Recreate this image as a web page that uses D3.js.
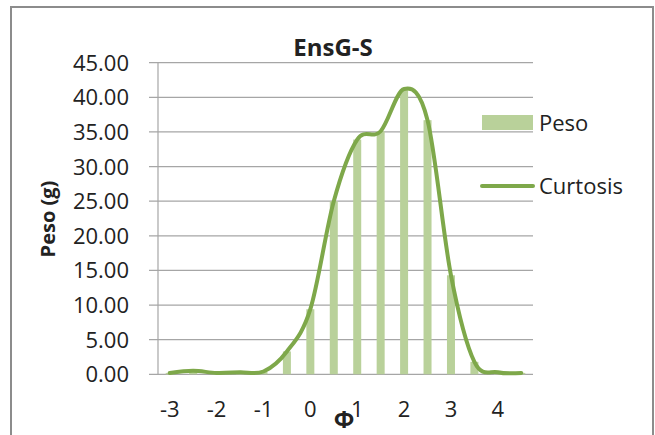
<!DOCTYPE html>
<html>
<head>
<meta charset="utf-8">
<script src="https://cdn.jsdelivr.net/npm/d3@7"></script>
<style>
  html, body { margin: 0; padding: 0; background: #fff; }
  svg { display: block; }
  text { font-family: "Open Sans", sans-serif; fill: #222; }
</style>
</head>
<body>
<svg id="chart" width="655" height="435"></svg>
<script>
// ---- data ----
const categories = [-3, -2.5, -2, -1.5, -1, -0.5, 0, 0.5, 1, 1.5, 2, 2.5, 3, 3.5, 4, 4.5];
const peso      = [0.2, 0.5, 0.2, 0.3, 0.4, 3.3, 9.4, 25.0, 33.9, 35.1, 41.2, 36.7, 14.3, 1.8, 0.3, 0.2];
const curtosis  = [0.2, 0.5, 0.2, 0.3, 0.4, 3.3, 9.4, 25.0, 33.9, 35.1, 41.2, 36.7, 14.3, 1.8, 0.3, 0.2];
const yTicks    = [0, 5, 10, 15, 20, 25, 30, 35, 40, 45];
const xLabels   = [-3, -2, -1, 0, 1, 2, 3, 4];
const seriesNames = ["Peso", "Curtosis"];
const title = "EnsG-S";
const yTitle = "Peso (g)";
const xTitle = "Φ";

(function () {
// ---- layout ----
const svg = d3.select("#chart");
const pLeft = 158, pRight = 533, pTop = 62.7, pBottom = 374.3;
const barColor = "#b9d19a", lineColor = "#7ea84a", gridColor = "#a6a6a6";

// frame
svg.append("rect").attr("x", 11).attr("y", 7).attr("width", 642).attr("height", 440)
  .attr("fill", "none").attr("stroke", "#8c8c8c").attr("stroke-width", 2);

const x = d3.scaleBand().domain(categories).range([pLeft, pRight]).padding(0);
const cx = d => x(d) + x.bandwidth() / 2;
const y = d3.scaleLinear().domain([0, 45]).range([pBottom, pTop]);

// gridlines
svg.append("g").selectAll("line").data(yTicks).join("line")
  .attr("x1", pLeft - 9).attr("x2", pRight)
  .attr("y1", d => y(d)).attr("y2", d => y(d))
  .attr("stroke", gridColor).attr("stroke-width", 1.2);

// y axis line
svg.append("line").attr("x1", pLeft).attr("x2", pLeft).attr("y1", pTop).attr("y2", pBottom)
  .attr("stroke", gridColor).attr("stroke-width", 1.2);

// y tick labels
svg.append("g").selectAll("text").data(yTicks).join("text")
  .attr("x", 129).attr("y", d => y(d) + 8)
  .attr("text-anchor", "end").attr("font-size", 22)
  .text(d => d3.format(".2f")(d));

// x tick labels
svg.append("g").selectAll("text").data(xLabels).join("text")
  .attr("x", d => cx(d)).attr("y", 417)
  .attr("text-anchor", "middle").attr("font-size", 22)
  .text(d => d);

// bars
const barW = 8;
svg.append("g").selectAll("rect").data(categories).join("rect")
  .attr("x", (d) => cx(d) - barW / 2)
  .attr("y", (d, i) => y(peso[i]))
  .attr("width", barW)
  .attr("height", (d, i) => y(0) - y(peso[i]))
  .attr("fill", barColor);

// smoothed line
const line = d3.line()
  .x((d, i) => cx(categories[i]))
  .y(d => y(d))
  .curve(d3.curveCatmullRom.alpha(0));
svg.append("path").datum(curtosis).attr("d", line)
  .attr("fill", "none").attr("stroke", lineColor).attr("stroke-width", 4)
  .attr("stroke-linecap", "round").attr("stroke-linejoin", "round");

// title
svg.append("text").attr("x", 333).attr("y", 56).attr("text-anchor", "middle")
  .attr("font-size", 24).attr("font-weight", "bold").text(title);

// y axis title
svg.append("text").attr("transform", "translate(55,219) rotate(-90)")
  .attr("text-anchor", "middle").attr("font-size", 20).attr("font-weight", "bold").text(yTitle);

// x axis title
svg.append("text").attr("x", 344).attr("y", 428).attr("text-anchor", "middle")
  .attr("font-size", 24).attr("font-weight", "bold").attr("fill", "#111").text(xTitle);

// legend
const lg = svg.append("g");
lg.append("rect").attr("x", 482).attr("y", 115).attr("width", 51).attr("height", 15).attr("fill", barColor);
lg.append("text").attr("x", 539).attr("y", 131).attr("font-size", 22).text(seriesNames[0]);
lg.append("line").attr("x1", 482).attr("x2", 533).attr("y1", 186).attr("y2", 186)
  .attr("stroke", lineColor).attr("stroke-width", 4).attr("stroke-linecap", "round");
lg.append("text").attr("x", 539).attr("y", 194).attr("font-size", 22).text(seriesNames[1]);
})();
</script>
</body>
</html>
